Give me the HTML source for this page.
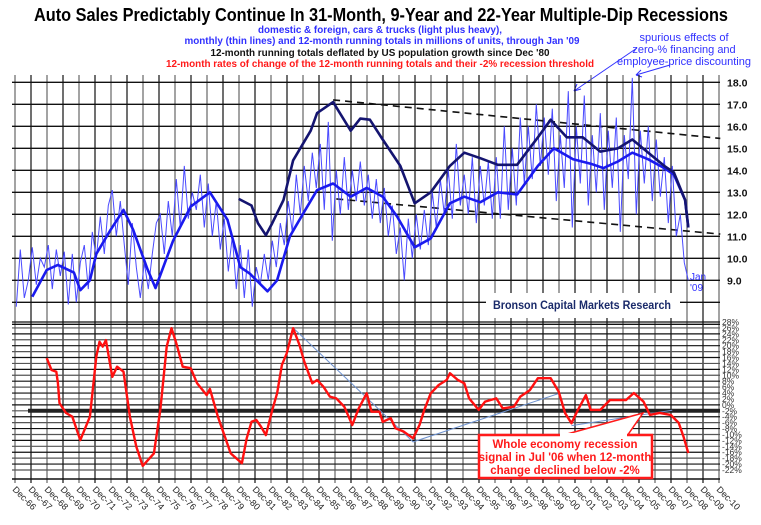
<!DOCTYPE html>
<html><head><meta charset="utf-8"><style>
html,body{margin:0;padding:0;background:#fff;}
svg{display:block;font-family:"Liberation Sans",sans-serif;}
</style></head><body>
<svg id="chart" width="761" height="525" viewBox="0 0 761 525">
<rect width="761" height="525" fill="#fff"/>
<g font-weight="bold" text-anchor="middle">
<text x="381" y="21" font-size="18" textLength="694" lengthAdjust="spacingAndGlyphs">Auto Sales Predictably Continue In 31-Month, 9-Year and 22-Year Multiple-Dip Recessions</text>
<text x="380" y="33" font-size="10.5" fill="#3030ff" textLength="244" lengthAdjust="spacingAndGlyphs">domestic &amp; foreign, cars &amp; trucks (light plus heavy),</text>
<text x="382" y="44" font-size="10.5" fill="#3030ff" textLength="395" lengthAdjust="spacingAndGlyphs">monthly (thin lines) and 12-month running totals in millions of units, through Jan '09</text>
<text x="380" y="56" font-size="10.5" fill="#111" textLength="339" lengthAdjust="spacingAndGlyphs">12-month running totals deflated by US population growth since Dec '80</text>
<text x="380" y="67" font-size="10.5" fill="#ff1a1a" textLength="428" lengthAdjust="spacingAndGlyphs">12-month rates of change of the 12-month running totals and their -2% recession threshold</text>
</g>
<g fill="#3030ff" font-size="11" text-anchor="middle">
<text x="684" y="41">spurious effects of</text>
<text x="684" y="53">zero-% financing and</text>
<text x="684" y="65">employee-price discounting</text>
<line x1="637" y1="48" x2="574" y2="91" stroke="#3030ff" stroke-width="1"/>
<path d="M574 91 l3 -7 M574 91 l7 -2" stroke="#3030ff" fill="none"/>
<line x1="670" y1="65" x2="636" y2="75" stroke="#3030ff" stroke-width="1"/>
<path d="M636 75 l5 -5 M636 75 l6 2" stroke="#3030ff" fill="none"/>
</g>
<g id="grid"></g>
<g id="marks"></g>
<g id="axes"></g>
<rect x="486" y="293" width="194" height="25" fill="#fff"/>
<text x="493" y="309" font-size="11.5" font-weight="bold" fill="#1a2a6a" textLength="178" lengthAdjust="spacingAndGlyphs">Bronson Capital Markets Research</text>
<text x="690" y="280" font-size="10" fill="#3030ff">Jan</text>
<text x="690" y="291" font-size="10" fill="#3030ff">'09</text>
<g>
<polygon points="560,436 627,436 643,413" fill="#fff" stroke="#ff1a1a" stroke-width="1.5"/>
<rect x="479" y="435" width="173" height="43" fill="#fff" stroke="#ff1a1a" stroke-width="2.5"/>
<rect x="560" y="433" width="67" height="4" fill="#fff"/>
<g fill="#ff1a1a" font-weight="bold" font-size="11.5" text-anchor="middle">
<text x="565" y="448">Whole economy recession</text>
<text x="565" y="461">signal in Jul '06 when 12-month</text>
<text x="565" y="474">change declined below -2%</text>
</g>
</g>
</svg>
<script>
// monthly (quarterly sampled) sales, millions, starting 1967.0 step 0.25
const monthlyValues = [7.8,10.4,8.2,9.0, 10.5,8.8,10.0,9.6, 10.6,8.6,10.4,9.2, 10.3,7.9,10.2,8.0,
 9.8,10.6,8.6,11.2, 10.0,11.9,10.2,12.4, 13.1,11.0,12.6,10.6, 8.8,11.6,9.6,8.2, 9.8,8.6,10.2,11.6,
 12.0,10.2,12.6,11.0, 13.6,11.4,14.2,11.8, 13.0,12.2,13.8,11.4, 13.4,11.0,12.6,10.4, 11.8,9.4,11.0,8.6,
 10.6,8.2,10.4,7.8, 9.6,8.8,10.2,9.0, 10.8,9.6,11.6,10.6, 12.6,11.2,13.8,12.0, 14.2,12.6,14.8,13.2,
 15.2,12.2,16.2,10.8, 14.0,12.0,14.6,12.2, 14.0,12.6,14.4,12.4, 13.8,11.8,13.6,11.6, 13.2,11.0,12.4,10.2,
 11.4,9.0,11.8,10.0, 12.0,10.4,12.2,10.6, 13.0,11.4,13.6,12.0, 14.0,11.8,15.2,12.4, 13.8,12.0,14.6,11.6,
 14.2,12.4,14.4,11.8, 14.6,11.8,16.0,12.2, 15.0,12.4,16.4,13.4, 16.0,13.6,17.0,14.2, 16.4,13.8,16.8,12.6,
 15.6,13.2,17.6,11.4, 16.0,13.4,17.4,12.4, 15.6,13.0,16.6,12.2, 15.8,13.2,16.4,11.2, 15.6,13.6,18.2,12.0,
 15.8,13.4,16.0,12.6, 15.4,12.8,14.6,11.6, 14.2,11.0,12.0,9.8, 9.0];
const monthlyStart = 1967.0;
const runYears = [1968.0,1968.9,1969.6,1970.6,1971.0,1971.6,1972.0,1972.9,1973.7,1974.3,1975.2,1975.7,1976.8,1977.9,1979.1,1980.2,1981.0,1981.6,1982.7,1983.3,1984.1,1984.9,1985.8,1986.8,1987.9,1988.9,1989.9,1990.8,1991.9,1992.9,1994.1,1995.0,1996.0,1997.1,1998.3,1999.6,2000.6,2001.8,2002.9,2003.7,2004.6,2005.5,2006.5,2007.5,2008.1,2008.8,2009.0];
const runValues = [8.25,9.47,9.7,9.35,8.55,9.0,10.2,11.3,12.2,11.3,9.5,8.65,10.8,12.35,13.0,11.75,9.6,9.3,8.5,9.0,11.0,12.0,13.1,13.4,12.8,13.2,12.8,11.9,10.5,10.9,12.5,12.8,12.55,13.0,12.9,14.2,15.0,14.5,14.3,14.1,14.4,14.8,14.5,14.1,13.8,12.65,11.4];
const deflYears = [1980.9,1981.7,1982.1,1982.6,1983.0,1983.7,1984.3,1985.4,1985.8,1986.8,1987.9,1988.5,1989.1,1989.9,1991.0,1991.9,1992.9,1994.1,1995.0,1996.0,1997.1,1998.3,1999.6,2000.4,2001.4,2002.4,2003.5,2004.6,2005.5,2006.5,2007.5,2008.1,2008.8,2009.0];
const deflValues = [12.7,12.4,11.6,11.05,11.6,12.65,14.45,15.8,16.6,17.1,15.8,16.35,16.3,15.4,14.2,12.5,13.0,14.2,14.8,14.55,14.25,14.25,15.5,16.3,15.5,15.5,14.85,15.0,15.4,14.8,14.2,13.9,12.65,11.4];
const chgYears = [1968.9,1969.2,1969.5,1969.6,1969.7,1970.1,1970.5,1971.0,1971.6,1972.0,1972.2,1972.4,1972.6,1973.0,1973.3,1973.7,1974.1,1974.5,1974.9,1975.6,1976.0,1976.4,1976.7,1977.0,1977.4,1977.9,1978.3,1978.9,1979.1,1979.6,1980.4,1981.1,1981.4,1981.7,1982.0,1982.3,1982.6,1983.0,1983.3,1983.6,1983.9,1984.3,1984.7,1985.0,1985.5,1985.8,1986.2,1986.6,1987.0,1987.5,1988.0,1988.4,1988.9,1989.2,1989.7,1989.9,1990.4,1990.7,1991.2,1991.8,1992.2,1992.5,1992.9,1993.4,1993.9,1994.1,1994.6,1995.0,1995.3,1995.9,1996.3,1997.0,1997.4,1998.1,1998.5,1999.1,1999.6,2000.4,2000.9,2001.3,2001.7,2002.1,2002.6,2002.9,2003.5,2004.1,2005.1,2005.6,2006.2,2006.6,2007.2,2007.9,2008.4,2008.7,2009.0];
const chgValues = [15.8,11.8,11.2,7.4,0.6,-2.7,-4,-11.9,-4,16.3,21.3,19.7,21.9,9.5,12.9,11.2,-4,-14.1,-20.6,-16.4,-1.7,19.7,25.9,20.8,12.9,12.4,7.3,3.3,5.4,-4,-16.4,-19.7,-11.3,-5.7,-5.1,-7.4,-10.2,-1.7,3.9,13.5,17.4,25.9,20.2,14.6,7.3,8.4,6.1,2.8,2.2,-0.6,-6.8,-1.2,3.9,-2.3,-2.3,-5.7,-4.5,-7.9,-9,-11.3,-6.8,-1.7,3.9,6.7,8.4,10.7,8.4,7.3,2.2,-1.7,1.1,2.2,-1.2,-0.6,2.8,5.0,9.0,9.0,4.5,-2.8,-6.2,-1.7,3.3,-1.7,-1.7,1.6,1.6,4,1.1,-3.4,-2.7,-3.4,-6.1,-10.7,-16.3];
const upperTicks = [18,17,16,15,14,13,12,11,10,9];
const pctTicks = [28,26,24,22,20,18,16,14,12,10,8,6,4,2,0,-2,-4,-6,-8,-10,-12,-14,-16,-18,-20,-22];
const threshold = -2;
const yearLabels = ['66','67','68','69','70','71','72','73','74','75','76','77','78','79','80','81','82','83','84','85','86','87','88','89','90','91','92','93','94','95','96','97','98','99','00','01','02','03','04','05','06','07','08','09','10'];
const topTrend = [[1986.8,17.2],[2011.0,15.45]];
const botTrend = [[1987.0,12.7],[2011.0,11.1]];
const chgTrendA = [[1984.3,26],[1991.8,-12.5],[2001.0,4]];
const chgTrendB = [[2001.7,-7],[2008.0,-1.8]];

const NS='http://www.w3.org/2000/svg';
const xs = t => 15 + (t - 1966.92) * 16;
const yU = v => 82.3 + (18 - v) * 22;
const yL = p => 322 + (28 - p) * 2.96;
function mk(tag, parent, attrs){const e=document.createElementNS(NS,tag);for(const k in attrs)e.setAttribute(k,attrs[k]);parent.appendChild(e);return e;}
const grid=document.getElementById('grid'), marks=document.getElementById('marks'), axes=document.getElementById('axes');

// vertical grid lines
yearLabels.forEach((y,i)=>{
  const x=xs(1966.92+i);
  const l=mk('line',grid,{x1:x,y1:75,x2:x,y2:483,stroke:i%2?'#111':'#666','stroke-width':1.2});
  
  
  const t=mk('text',axes,{x:x-3,y:490,'font-size':9,fill:'#222',transform:`rotate(45 ${x-3} 490)`});
  t.textContent='Dec-'+y;
  
  
});
// upper horizontal grid
for(let v=18; v>=7; v--){
  const l=mk('line',grid,{x1:12,y1:yU(v),x2:720,y2:yU(v),stroke:'#111','stroke-width':1.4});
  
  
}
upperTicks.forEach(v=>{
  const t=mk('text',axes,{x:727,y:yU(v)+4,'font-size':10.5,'font-weight':'bold',fill:'#111'});
  t.textContent=v.toFixed(1);
  
  
});
// lower grid
pctTicks.forEach((p,i)=>{
  const l=mk('line',grid,{x1:12,y1:yL(p),x2:720,y2:yL(p),stroke:i%2?'#555':'#111','stroke-width':1.2});
  
  
  const t=mk('text',axes,{x:722,y:yL(p)+3,'font-size':8.5,fill:'#333'});
  t.textContent=p+'%';
  
  
});
const bl=mk('line',grid,{x1:12,y1:479,x2:720,y2:479,stroke:'#111','stroke-width':1.5});


const th=mk('line',grid,{x1:28,y1:yL(threshold),x2:720,y2:yL(threshold),stroke:'#222','stroke-width':4});



function pathU(ys,vs,f){return ys.map((t,i)=>(i?'L':'M')+xs(t).toFixed(1)+' '+f(vs[i]).toFixed(1)).join(' ');}
// dashed trend lines
[topTrend,botTrend].forEach(tr=>{
  const p=mk('path',marks,{d:pathU(tr.map(a=>a[0]),tr.map(a=>a[1]),yU),stroke:'#111','stroke-width':1.6,'stroke-dasharray':'7 5',fill:'none'});
  
  
});
[chgTrendA,chgTrendB].forEach(tr=>{
  const p=mk('path',marks,{d:pathU(tr.map(a=>a[0]),tr.map(a=>a[1]),yL),stroke:'#6f93d0','stroke-width':1,fill:'none'});
  
  
});
// monthly thin
const mYears=monthlyValues.map((v,i)=>monthlyStart+i*0.25);
const pm=mk('path',marks,{d:pathU(mYears,monthlyValues,yU),stroke:'#4a4aff','stroke-width':1,fill:'none'});


const pr=mk('path',marks,{d:pathU(runYears,runValues,yU),stroke:'#1a1aee','stroke-width':2.6,fill:'none','stroke-linejoin':'round'});


const pd=mk('path',marks,{d:pathU(deflYears,deflValues,yU),stroke:'#141470','stroke-width':2.6,fill:'none','stroke-linejoin':'round'});


const pc=mk('path',marks,{d:pathU(chgYears,chgValues,yL),stroke:'#ff1010','stroke-width':2.4,fill:'none','stroke-linejoin':'round'});


</script>
</body></html>
